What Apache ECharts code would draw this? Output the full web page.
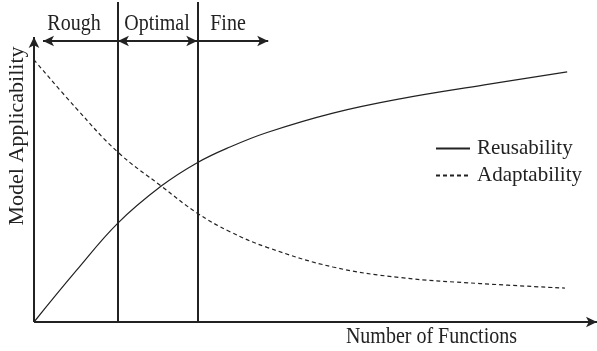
<!DOCTYPE html>
<html lang="en">
<head>
    <meta charset="UTF-8">
    <title>Model Applicability</title>
    <script src="https://cdn.jsdelivr.net/npm/echarts@6/dist/echarts.min.js"></script>
    <style>
        html, body { margin: 0; padding: 0; background: #fff; }
        #chart { width: 597px; height: 351px; }
    </style>
</head>
<body>
<div id="chart"></div>
<script type="text/javascript">
    // number of functions (0-100) vs model applicability (0-100)
    var reuseX = [0, 7.5, 14.9, 22.6, 29, 34.8, 41.4, 53.1, 65, 80, 94.7];
    var reuseY = [0, 18, 34.7, 47.7, 55.9, 61.4, 66.5, 73.3, 78.3, 83.2, 87.8];
    var adaptX = [0, 7.5, 14.9, 22.6, 29, 34.8, 41.4, 53.1, 65, 79.2, 94.3];
    var adaptY = [92, 75, 59.6, 47.7, 38.2, 31.7, 26.2, 19.3, 15.6, 13.5, 11.9];
    // region boundaries and the arrows above them
    var bounds = [14.9, 29];
    var regionNames = ['Rough', 'Optimal', 'Fine'];
    var arrowStart = 1.6, arrowEnd = 41.6, arrowY = 98.6;
    var yTop = 112.3;

    var ink = '#222';
    var serif = '"Liberation Serif", "Times New Roman", serif';

    function pairs(xs, ys) {
        return xs.map(function (x, i) { return [x, ys[i]]; });
    }
    function seg(a, b, sym, w) {
        return [
            { coord: a, symbol: sym[0], lineStyle: { width: w || 2 } },
            { coord: b, symbol: sym[1] }
        ];
    }

    var chart = echarts.init(document.getElementById('chart'));

    var lines = [
        seg([0, 0], [0, 100], ['none', 'arrow']),          // y axis
        seg([0, 0], [100, 0], ['none', 'arrow']),          // x axis
        seg([bounds[0], 0], [bounds[0], yTop], ['none', 'none']),
        seg([bounds[1], 0], [bounds[1], yTop], ['none', 'none']),
        seg([arrowStart, arrowY], [bounds[0], arrowY], ['arrow', 'none']),
        seg([bounds[0], arrowY], [bounds[1], arrowY], ['arrow', 'arrow']),
        seg([bounds[1], arrowY], [arrowEnd, arrowY], ['none', 'arrow'])
    ];

    function txt(s, x, y, align, extra) {
        var t = {
            type: 'text', x: x, y: y, scaleY: 1.2, silent: true,
            style: { text: s, font: '20px ' + serif, fill: ink, textAlign: align, textVerticalAlign: 'middle' }
        };
        for (var k in extra) t[k] = extra[k];
        return t;
    }

    chart.setOption({
        animation: false,
        backgroundColor: '#fff',
        grid: { left: 34, right: 0, top: 2, bottom: 29 },
        xAxis: {
            type: 'value', min: 0, max: 100,
            axisLine: { show: false }, axisTick: { show: false },
            axisLabel: { show: false }, splitLine: { show: false }
        },
        yAxis: {
            type: 'value', min: 0, max: yTop,
            axisLine: { show: false }, axisTick: { show: false },
            axisLabel: { show: false }, splitLine: { show: false }
        },
        legend: {
            orient: 'vertical', left: 430, top: 133,
            itemWidth: 34, itemHeight: 10, itemGap: 6,
            itemStyle: { opacity: 0 },
            textStyle: { fontFamily: serif, fontSize: 21, color: ink, padding: [0, 0, 0, 2] },
            data: ['Reusability', 'Adaptability']
        },
        series: [
            {
                name: 'Reusability', type: 'line', smooth: 0.4, symbol: 'none',
                lineStyle: { color: ink, width: 1.2 },
                itemStyle: { color: ink },
                data: pairs(reuseX, reuseY),
                markLine: {
                    silent: true, animation: false,
                    symbolSize: [8, 11],
                    label: { show: false },
                    lineStyle: { color: ink, type: 'solid', width: 2 },
                    data: lines
                }
            },
            {
                name: 'Adaptability', type: 'line', smooth: 0.4, symbol: 'none',
                lineStyle: { color: ink, width: 1.2, type: [4, 3] },
                itemStyle: { color: ink },
                data: pairs(adaptX, adaptY)
            }
        ],
        graphic: [
            txt(regionNames[0], 74, 24, 'center'),
            txt(regionNames[1], 157, 24, 'center'),
            txt(regionNames[2], 228, 24, 'center'),
            txt('Number of Functions', 517, 337, 'right'),
            {
                type: 'text', x: 17, y: 136, rotation: Math.PI / 2, scaleX: 1.1, scaleY: 1.05, silent: true,
                style: { text: 'Model Applicability', font: '20px ' + serif, fill: ink, textAlign: 'center', textVerticalAlign: 'middle' }
            }
        ]
    });
</script>
</body>
</html>
